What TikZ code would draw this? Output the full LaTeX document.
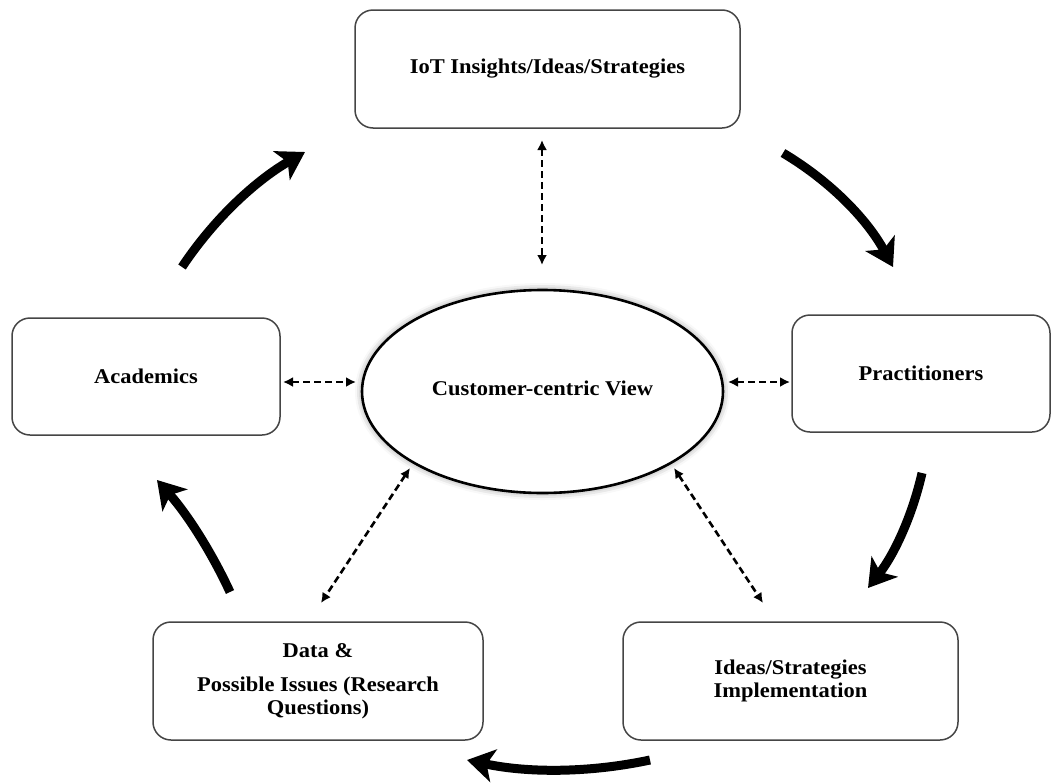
\documentclass[tikz,border=0pt]{standalone}
\usepackage{fontspec}
\newfontfamily\lblfont[FakeStretch=1.07]{Liberation Serif}
\usetikzlibrary{arrows.meta,shapes.geometric,shadows.blur}
\definecolor{boxgray}{HTML}{454545}
\begin{document}
\begin{tikzpicture}[x=1pt,y=-1pt,
  lbl/.style={font=\lblfont\bfseries\fontsize{21}{23}\selectfont, align=center},
  box/.style={lbl, draw=boxgray, line width=1.5pt, rounded corners=18pt, fill=white, inner sep=0pt},
  hub/.style={lbl, ellipse, draw=black, line width=2.6pt, fill=white, inner sep=0pt,
    blur shadow={shadow xshift=0pt, shadow yshift=0pt, shadow blur radius=7pt, shadow opacity=45}},
  linkarrow/.style={line width=2.6pt, dash pattern=on 7pt off 4pt,
    {Latex[length=10pt,width=10pt]}-{Latex[length=10pt,width=10pt]}},
  cyclearrow/.style={line width=9pt, -{Stealth[length=27pt,width=33pt,inset=7pt]}}]
\useasboundingbox (0,0) rectangle (1052,782);

\node[box, minimum width=385pt, minimum height=118pt] (iot) at (547.5,69) {IoT Insights/Ideas/Strategies};
\node[box, minimum width=268pt, minimum height=117pt] (acad) at (146,376.5) {Academics};
\node[box, minimum width=258pt, minimum height=117pt] (prac) at (921,373.5) {Practitioners};
\node[box, minimum width=330pt, minimum height=118pt] (data) at (318,681) {Data \&\\[11pt]Possible Issues (Research\\Questions)};
\node[box, minimum width=335pt, minimum height=118pt] (impl) at (790.5,681) {\raisebox{-3pt}{Ideas/Strategies}\\\raisebox{-3pt}{Implementation}};
\node[hub, minimum width=361pt, minimum height=203pt] (ccv) at (542.5,391.5) {\raisebox{7pt}{Customer-centric View}};

% dashed two-way links
\coordinate (d1a) at (542,140); \coordinate (d1b) at (542,265);
\coordinate (d2a) at (283,382); \coordinate (d2b) at (356,382);
\coordinate (d3a) at (728,382); \coordinate (d3b) at (790,382);
\coordinate (d4a) at (410,468); \coordinate (d4b) at (321,603);
\coordinate (d5a) at (674,468); \coordinate (d5b) at (763,603);
\draw[linkarrow] (d1a) -- (d1b);
\draw[linkarrow] (d2a) -- (d2b);
\draw[linkarrow] (d3a) -- (d3b);
\draw[linkarrow] (d4a) -- (d4b);
\draw[linkarrow] (d5a) -- (d5b);

% thick cycle arrows
\coordinate (c1s) at (182,267); \coordinate (c1e) at (305,152);
\coordinate (c2s) at (783,153); \coordinate (c2e) at (893,267);
\coordinate (c3s) at (922,473); \coordinate (c3e) at (868,588);
\coordinate (c4s) at (650,760); \coordinate (c4e) at (467,760);
\coordinate (c5s) at (230,592); \coordinate (c5e) at (157,480);
\draw[cyclearrow] (c1s) .. controls (214,219) and (255,181) .. (c1e);
\draw[cyclearrow] (c2s) .. controls (830,181) and (867,219) .. (c2e);
\draw[cyclearrow] (c3s) .. controls (912.5,515) and (894.5,554) .. (c3e);
\draw[cyclearrow] (c4s) .. controls (589,773) and (528,773) .. (c4e);
\draw[cyclearrow] (c5s) .. controls (211,551) and (187,514) .. (c5e);
\end{tikzpicture}
\end{document}
